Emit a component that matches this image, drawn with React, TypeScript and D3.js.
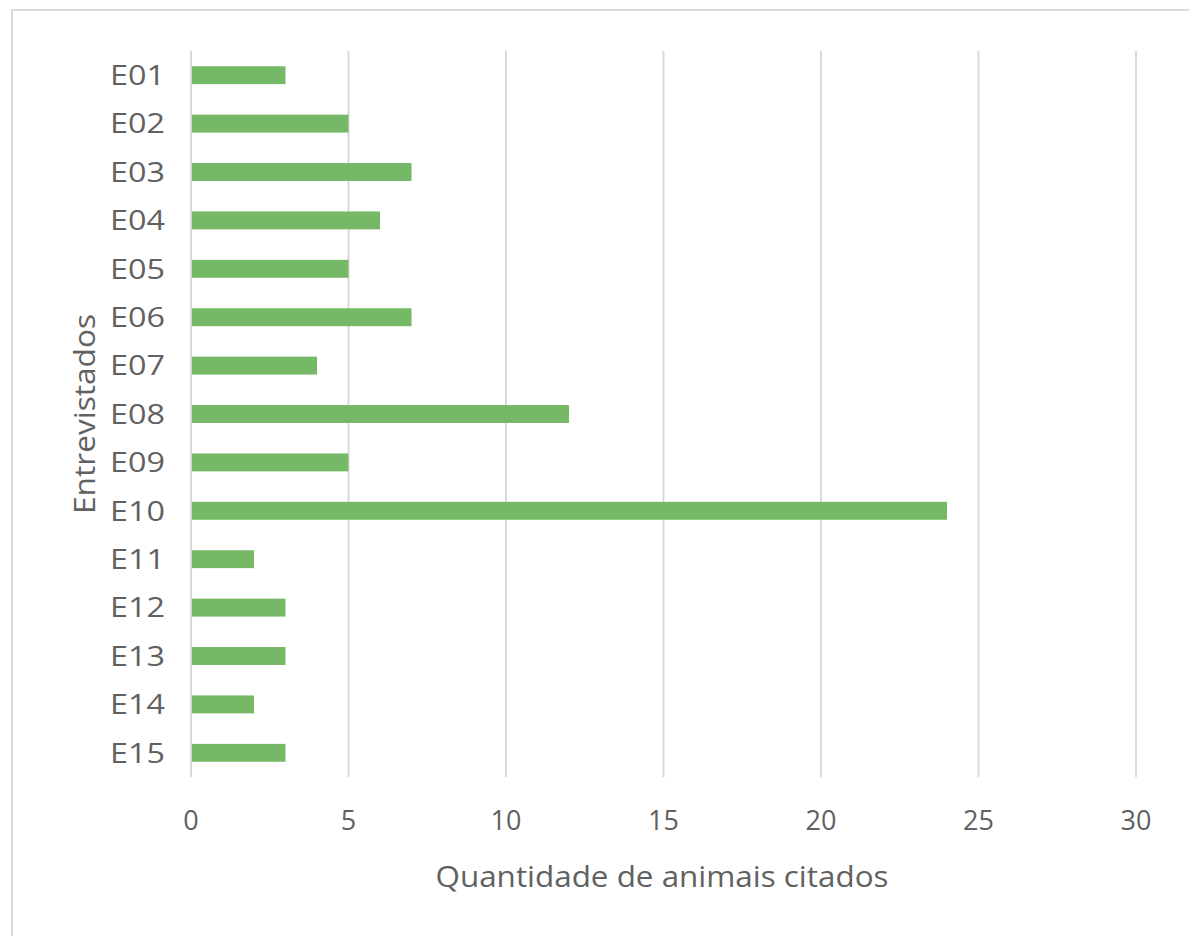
import React, { useEffect, useRef } from "react";
import * as d3 from "d3";

// Interviewees and the number of animals each one cited
const entrevistados = ["E01", "E02", "E03", "E04", "E05", "E06", "E07", "E08", "E09", "E10", "E11", "E12", "E13", "E14", "E15"];
const animaisCitados = [3, 5, 7, 6, 5, 7, 4, 12, 5, 24, 2, 3, 3, 2, 3];
const xTicks = [0, 5, 10, 15, 20, 25, 30];

const W = 1189;
const H = 936;
const FONT = "'Open Sans', sans-serif";
const TEXT = "#616161";
const GRID = "#d9d9d9";
const BAR = "#75b966";

export default function App() {
  const ref = useRef<SVGSVGElement | null>(null);

  useEffect(() => {
    const svg = d3.select(ref.current);
    svg.selectAll("*").remove();

    // outer chart frame
    svg.append("rect")
      .attr("x", 12).attr("y", 10)
      .attr("width", W + 20).attr("height", H + 20)
      .attr("fill", "#fff").attr("stroke", GRID).attr("stroke-width", 2);

    const left = 191, right = 1136, top = 51, bottom = 777;
    const x = d3.scaleLinear().domain([0, 30]).range([left, right]);
    const y = d3.scaleBand<string>().domain(entrevistados).range([top, bottom]).paddingInner(0.63).paddingOuter(0.315);

    // vertical gridlines
    svg.append("g").selectAll("line").data(xTicks).join("line")
      .attr("x1", d => x(d)).attr("x2", d => x(d))
      .attr("y1", top).attr("y2", bottom)
      .attr("stroke", GRID).attr("stroke-width", 2);

    // bars
    svg.append("g").selectAll("rect").data(animaisCitados).join("rect")
      .attr("x", x(0) + 1)
      .attr("y", (_, i) => y(entrevistados[i])!)
      .attr("width", d => x(d) - x(0) - 1)
      .attr("height", y.bandwidth())
      .attr("fill", BAR);

    // category labels
    svg.append("g").selectAll("text").data(entrevistados).join("text")
      .attr("x", 165)
      .attr("y", d => y(d)! + y.bandwidth() / 2)
      .attr("dy", "0.36em")
      .attr("text-anchor", "end")
      .attr("font-family", FONT).attr("font-size", 27).attr("fill", TEXT)
      .attr("textLength", 55).attr("lengthAdjust", "spacingAndGlyphs")
      .text(d => d);

    // value tick labels
    svg.append("g").selectAll("text").data(xTicks).join("text")
      .attr("x", d => x(d))
      .attr("y", 820)
      .attr("dy", "0.36em")
      .attr("text-anchor", "middle")
      .attr("font-family", FONT).attr("font-size", 27).attr("fill", TEXT)
      .text(d => String(d));

    // axis titles
    svg.append("text")
      .attr("x", 662).attr("y", 876).attr("dy", "0.36em")
      .attr("text-anchor", "middle")
      .attr("font-family", FONT).attr("font-size", 30).attr("fill", TEXT)
      .attr("textLength", 453).attr("lengthAdjust", "spacingAndGlyphs")
      .text("Quantidade de animais citados");

    svg.append("text")
      .attr("transform", "translate(84,414) rotate(-90)")
      .attr("dy", "0.36em")
      .attr("text-anchor", "middle")
      .attr("font-family", FONT).attr("font-size", 30).attr("fill", TEXT)
      .attr("textLength", 200).attr("lengthAdjust", "spacingAndGlyphs")
      .text("Entrevistados");
  }, []);

  return (
    <svg
      ref={ref}
      width={W}
      height={H}
      style={{ position: "absolute", left: 0, top: 0, display: "block", background: "#fff" }}
    />
  );
}
